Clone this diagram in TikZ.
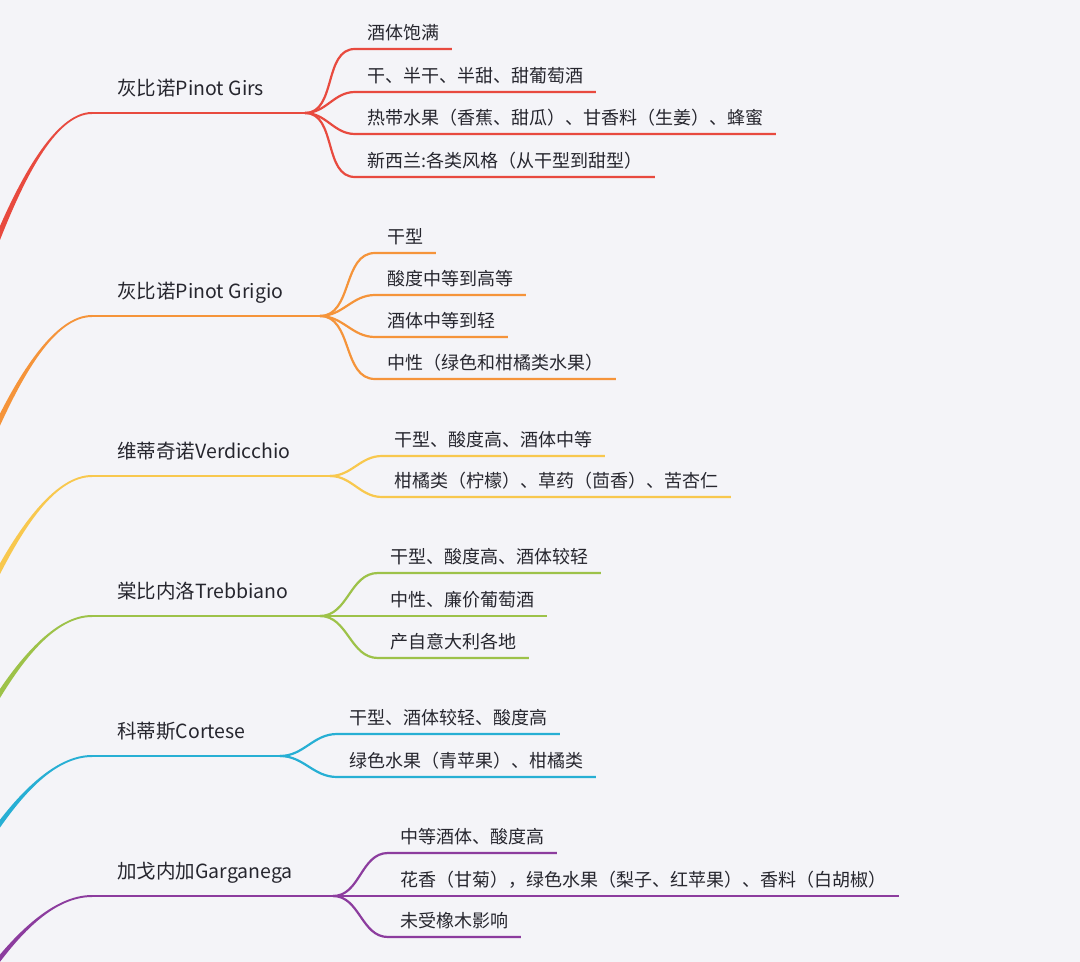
\documentclass[tikz,border=0pt]{standalone}
\usepackage{fontspec}
\newfontfamily\cjk{Noto Sans CJK SC}
\usetikzlibrary{calc}
\definecolor{paper}{HTML}{F4F4F8}
\definecolor{ink}{HTML}{26262E}
\definecolor{grisred}{HTML}{E84A3F}
\definecolor{grigorange}{HTML}{F5943A}
\definecolor{verdyellow}{HTML}{F8C84E}
\definecolor{trebgreen}{HTML}{9DC249}
\definecolor{cortcyan}{HTML}{27AFD4}
\definecolor{gargpurple}{HTML}{8C3C9E}
\tikzset{
  grape/.style={anchor=south west,inner xsep=12.5pt,inner ysep=8.75pt,text depth=0pt,
    font=\cjk\fontsize{9.75}{12}\selectfont,text=ink},
  note/.style={anchor=south west,inner xsep=6pt,inner ysep=4.75pt,text depth=0pt,
    font=\cjk\fontsize{9}{11}\selectfont,text=ink},
  br/.style={draw=#1,line width=1.1pt},
}
% tapered stem coming in from the root, off to the left
\newcommand{\trunk}[3]{%
  \fill[#2] ($(#1.south west)+(-100,1.2*#3)$)
    .. controls ($(#1.south west)+(-74,0.62*#3)$) and ($(#1.south west)+(-37,-1)$) .. ($(#1.south west)+(0,-1)$)
    -- ($(#1.south west)+(0,1)$)
    .. controls ($(#1.south west)+(-37,1)$) and ($(#1.south west)+(-69,0.62*#3)$) .. ($(#1.south west)+(-94,1.2*#3)$)
    -- cycle;}

\begin{document}
\begin{tikzpicture}[x=0.5pt,y=-0.5pt]
  \useasboundingbox (0,0) rectangle (1080,962);
  \fill[paper] (0,0) rectangle (1080,962);
  \clip (0,0) rectangle (1080,962);

  % Pinot Gris
  \node[grape] (gris) at (92,113) {灰比诺Pinot Girs};
  \coordinate (grisf) at (305,113);
  \node[note] (gris1) at (355,49) {酒体饱满};
  \node[note] (gris2) at (355,92) {干、半干、半甜、甜葡萄酒};
  \node[note] (gris3) at (355,134) {热带水果（香蕉、甜瓜）、甘香料（生姜）、蜂蜜};
  \node[note] (gris4) at (355,177) {新西兰:各类风格（从干型到甜型）};
  \trunk{gris}{grisred}{110}
  \draw[br=grisred] (gris.south west) -- (grisf);
  \draw[br=grisred] (grisf) to[out=0,in=180] (gris1.south west) -- (gris1.south east);
  \draw[br=grisred] (grisf) to[out=0,in=180] (gris2.south west) -- (gris2.south east);
  \draw[br=grisred] (grisf) to[out=0,in=180] (gris3.south west) -- (gris3.south east);
  \draw[br=grisred] (grisf) to[out=0,in=180] (gris4.south west) -- (gris4.south east);

  % Pinot Grigio
  \node[grape] (grig) at (92,316) {灰比诺Pinot Grigio};
  \coordinate (grigf) at (320,316);
  \node[note] (grig1) at (375,253) {干型};
  \node[note] (grig2) at (375,295) {酸度中等到高等};
  \node[note] (grig3) at (375,337) {酒体中等到轻};
  \node[note] (grig4) at (375,379) {中性（绿色和柑橘类水果）};
  \trunk{grig}{grigorange}{95}
  \draw[br=grigorange] (grig.south west) -- (grigf);
  \draw[br=grigorange] (grigf) to[out=0,in=180] (grig1.south west) -- (grig1.south east);
  \draw[br=grigorange] (grigf) to[out=0,in=180] (grig2.south west) -- (grig2.south east);
  \draw[br=grigorange] (grigf) to[out=0,in=180] (grig3.south west) -- (grig3.south east);
  \draw[br=grigorange] (grigf) to[out=0,in=180] (grig4.south west) -- (grig4.south east);

  % Verdicchio
  \node[grape] (verd) at (92,476) {维蒂奇诺Verdicchio};
  \coordinate (verdf) at (330,476);
  \node[note] (verd1) at (382,456) {干型、酸度高、酒体中等};
  \node[note] (verd2) at (382,497) {柑橘类（柠檬）、草药（茴香）、苦杏仁};
  \trunk{verd}{verdyellow}{85}
  \draw[br=verdyellow] (verd.south west) -- (verdf);
  \draw[br=verdyellow] (verdf) to[out=0,in=180] (verd1.south west) -- (verd1.south east);
  \draw[br=verdyellow] (verdf) to[out=0,in=180] (verd2.south west) -- (verd2.south east);

  % Trebbiano
  \node[grape] (treb) at (92,616) {棠比内洛Trebbiano};
  \coordinate (trebf) at (320,616);
  \node[note] (treb1) at (378,573) {干型、酸度高、酒体较轻};
  \node[note] (treb2) at (378,616) {中性、廉价葡萄酒};
  \node[note] (treb3) at (378,658) {产自意大利各地};
  \trunk{treb}{trebgreen}{71}
  \draw[br=trebgreen] (treb.south west) -- (trebf);
  \draw[br=trebgreen] (trebf) to[out=0,in=180] (treb1.south west) -- (treb1.south east);
  \draw[br=trebgreen] (trebf) -- (treb2.south west) -- (treb2.south east);
  \draw[br=trebgreen] (trebf) to[out=0,in=180] (treb3.south west) -- (treb3.south east);

  % Cortese
  \node[grape] (cort) at (92,756) {科蒂斯Cortese};
  \coordinate (cortf) at (280,756);
  \node[note] (cort1) at (337,734) {干型、酒体较轻、酸度高};
  \node[note] (cort2) at (337,777) {绿色水果（青苹果）、柑橘类};
  \trunk{cort}{cortcyan}{62}
  \draw[br=cortcyan] (cort.south west) -- (cortf);
  \draw[br=cortcyan] (cortf) to[out=0,in=180] (cort1.south west) -- (cort1.south east);
  \draw[br=cortcyan] (cortf) to[out=0,in=180] (cort2.south west) -- (cort2.south east);

  % Garganega
  \node[grape] (garg) at (92,896) {加戈内加Garganega};
  \coordinate (gargf) at (333,896);
  \node[note] (garg1) at (388,853) {中等酒体、酸度高};
  \node[note] (garg2) at (388,896) {花香（甘菊），绿色水果（梨子、红苹果）、香料（白胡椒）};
  \node[note] (garg3) at (388,937) {未受橡木影响};
  \trunk{garg}{gargpurple}{57}
  \draw[br=gargpurple] (garg.south west) -- (gargf);
  \draw[br=gargpurple] (gargf) to[out=0,in=180] (garg1.south west) -- (garg1.south east);
  \draw[br=gargpurple] (gargf) -- (garg2.south west) -- (garg2.south east);
  \draw[br=gargpurple] (gargf) to[out=0,in=180] (garg3.south west) -- (garg3.south east);
\end{tikzpicture}
\end{document}
